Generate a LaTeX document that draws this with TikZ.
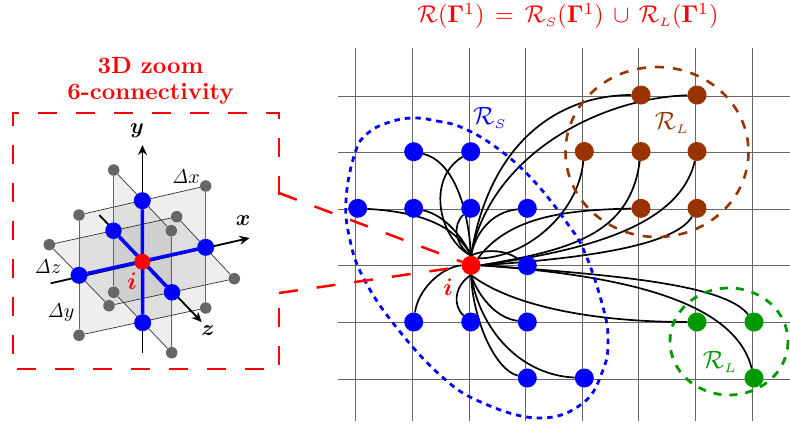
\documentclass[tikz,border=0pt]{standalone}
\usepackage{amsmath}
\usetikzlibrary{arrows.meta,backgrounds,shapes.geometric}
\definecolor{brownc}{RGB}{153,51,0}
\definecolor{greenc}{RGB}{0,153,0}
\definecolor{grayn}{RGB}{102,102,102}
\tikzset{
  pt/.style={circle,inner sep=0pt,minimum size=19pt,fill=#1},
  gpt/.style={circle,inner sep=0pt,minimum size=11.5pt,fill=grayn},
  conn/.style={black,line width=1.7pt},
  gridl/.style={grayn,line width=1pt},
  zoomd/.style={red,line width=2.5pt,dash pattern=on 19pt off 19pt},
  plane/.style={fill=black,fill opacity=0.065},
  pedge/.style={black!80,line width=0.7pt},
  pvert/.style={grayn,line width=0.9pt},
  axisl/.style={black,line width=1.8pt,-{Stealth[length=10pt,width=9pt]}},
  bluel/.style={blue,line width=3.5pt},
  txt/.style={inner sep=0pt,transform shape,scale=#1},
}
\begin{document}
\begin{tikzpicture}[x=1pt,y=-1pt]
\useasboundingbox (0,0) rectangle (790,424);
% titles
\node[txt=2.42,text=red] (ttl) at (568,16) {$\mathcal{R}(\mathbf{\Gamma}^{1})\,=\,\mathcal{R}_{\scriptscriptstyle S}(\mathbf{\Gamma}^{1})\,\cup\,\mathcal{R}_{\scriptscriptstyle L}(\mathbf{\Gamma}^{1})$};
\node[txt=2.35,text=red] (zoom1) at (150.5,66) {\bfseries 3D zoom};
\node[txt=2.35,text=red] (zoom2) at (150.5,94) {\bfseries 6-connectivity};
% 3D stencil nodes
\node[pt=blue,minimum size=17pt] (ct) at (142.3,200.7) {};
\node[pt=blue,minimum size=17pt] (cb) at (142.7,322.7) {};
\node[pt=blue,minimum size=17pt] (cl) at (79,275.3) {};
\node[pt=blue,minimum size=17pt] (cr) at (205.7,247.3) {};
\node[pt=blue,minimum size=16.5pt] (cbk) at (113.5,230.7) {};
\node[pt=blue,minimum size=16.5pt] (cf) at (172,292.3) {};
\node[pt=red,minimum size=16pt] (cc) at (142.3,261.7) {};
\node[gpt] (g1) at (113.7,170) {};
\node[gpt] (g2) at (205.7,186) {};
\node[gpt] (g3) at (79,215) {};
\node[gpt] (g4) at (176.7,216.7) {};
\node[gpt] (g5) at (171.3,230.7) {};
\node[gpt] (g6) at (49.3,244.7) {};
\node[gpt] (g7) at (234.3,278.7) {};
\node[gpt] (g8) at (113.7,292.3) {};
\node[gpt] (g9) at (109,305.7) {};
\node[gpt] (g10) at (205.7,308) {};
\node[gpt] (g11) at (79,335.3) {};
\node[gpt] (g12) at (171.7,352.7) {};
\coordinate (ytail) at (142.5,353);
\coordinate (yhead) at (142.5,145);
\coordinate (xtail) at (50.7,283.3);
\coordinate (xhead) at (249.5,238);
\coordinate (ztail) at (99.3,215);
\coordinate (zhead) at (201.7,322);
\node[txt=2.2] (lx) at (243,221) {{\boldmath$x$}};
\node[txt=2.2] (ly) at (137,131) {{\boldmath$y$}};
\node[txt=2.2] (lz) at (208,331) {{\boldmath$z$}};
\node[txt=2] (ldx) at (186,177) {$\mathit{\Delta}x$};
\node[txt=2] (ldz) at (48,267) {$\mathit{\Delta}z$};
\node[txt=2] (ldy) at (61,313) {$\mathit{\Delta}y$};
\node[txt=2.4,text=red] (li) at (132,281) {{\boldmath$i$}};
% right grid nodes
\node[pt=blue] (a1) at (413.7,151.7) {};
\node[pt=blue] (a2) at (470.7,151.7) {};
\node[pt=blue] (b0) at (357.7,208.3) {};
\node[pt=blue] (b1) at (413.7,208.3) {};
\node[pt=blue] (b2) at (470.7,208.3) {};
\node[pt=blue] (b3) at (527.3,208.3) {};
\node[pt=blue] (c3) at (527.3,265.7) {};
\node[pt=blue] (d1) at (413.7,322) {};
\node[pt=blue] (d2) at (470.7,322) {};
\node[pt=blue] (d3) at (527.3,322) {};
\node[pt=blue] (e3) at (527.3,378) {};
\node[pt=blue] (e4) at (584.3,378) {};
\node[pt=red] (r) at (471,265.3) {};
\node[pt=brownc] (t1) at (641,95) {};
\node[pt=brownc] (t2) at (697,95) {};
\node[pt=brownc] (u0) at (584.3,151.5) {};
\node[pt=brownc] (u1) at (641,151.5) {};
\node[pt=brownc] (u2) at (697,151.5) {};
\node[pt=brownc] (v1) at (641,208.3) {};
\node[pt=brownc] (v2) at (697,208.3) {};
\node[pt=greenc] (w1) at (697,322) {};
\node[pt=greenc] (w2) at (754,322) {};
\node[pt=greenc] (x2) at (754,378) {};
\node[txt=2.5,text=blue] (lrs) at (490,118) {$\mathcal{R}_{\scriptscriptstyle S}$};
\node[txt=2.5,text=brownc] (lrl) at (672,123) {$\mathcal{R}_{\scriptscriptstyle L}$};
\node[txt=2.5,text=greenc] (lrg) at (720,362) {$\mathcal{R}_{\scriptscriptstyle L}$};
\node[txt=2.4,text=red] (lri) at (448,287) {{\boldmath$i$}};
\begin{scope}[on background layer]
  % grid
  \foreach \x in {355.4,412.6,469.4,525.4,582.3,638.4,695.6,752.3}
    \draw[gridl] (\x,48) -- (\x,421);
  \foreach \y in {96.3,152.3,209,265.5,322,379.3}
    \draw[gridl] (338,\y) -- (790,\y);
  % 3D planes
  \fill[plane] (g6.center) -- (g4.center) -- (g7.center) -- (g9.center) -- cycle;
  \fill[plane] (g3.center) -- (g2.center) -- (g10.center) -- (g11.center) -- cycle;
  \fill[plane] (g1.center) -- (g5.center) -- (g12.center) -- (g8.center) -- cycle;
  \draw[pedge] (g6) -- (g4) -- (g7) -- (g9) -- (g6);
  \draw[pedge] (g3) -- (g2);
  \draw[pedge] (g11) -- (g10);
  \draw[pedge] (g1) -- (g5);
  \draw[pedge] (g8) -- (g12);
  \draw[pvert] (g3) -- (g11);
  \draw[pvert] (g2) -- (g10);
  \draw[pvert] (g1) -- (g8);
  \draw[pvert] (g5) -- (g12);
  % axes
  \draw[axisl] (ytail) -- (yhead);
  \draw[axisl] (xtail) -- (xhead);
  \draw[axisl] (ztail) -- (zhead);
  \draw[bluel] (ct) -- (cb);
  \draw[bluel] (cl) -- (cr);
  \draw[bluel] (cbk) -- (cf);
  % connectors
  \draw[conn] (a1) .. controls (450,160) and (468,200) .. (r.north);
  \draw[conn] (a2) .. controls (425,180) and (440,240) .. (r.north);
  \draw[conn] (b0) .. controls (420,212) and (455,225) .. (r.north);
  \draw[conn] (b1) .. controls (445,215) and (463,238) .. (r.north);
  \draw[conn] (b2) .. controls (452,225) and (455,245) .. (r.north);
  \draw[conn] (b3) .. controls (490,212) and (475,235) .. (r.north);
  \draw[conn] (c3) .. controls (505,249) and (485,249) .. (r.north);
  \draw[conn] (t1) .. controls (560,95) and (490,140) .. (r.north);
  \draw[conn] (t2) .. controls (600,98) and (490,155) .. (r.north);
  \draw[conn] (u0) .. controls (578,215) and (525,258) .. (r.north east);
  \draw[conn] (u1) .. controls (630,235) and (570,250) .. (r.east);
  \draw[conn] (u2) .. controls (680,225) and (590,250) .. (r.east);
  \draw[conn] (v1) .. controls (570,210) and (510,215) .. (r.north east);
  \draw[conn] (v2) .. controls (675,245) and (590,258) .. (r.east);
  \draw[conn] (d1) .. controls (418,290) and (440,268) .. (r.west);
  \draw[conn] (d2) .. controls (452,305) and (455,285) .. (r.south);
  \draw[conn] (d3) .. controls (495,318) and (478,295) .. (r.south);
  \draw[conn] (e3) .. controls (495,370) and (473,320) .. (r.south);
  \draw[conn] (e4) .. controls (520,375) and (480,330) .. (r.south);
  \draw[conn] (w1) .. controls (590,322) and (510,305) .. (r.south);
  \draw[conn] (w2) .. controls (725,285) and (620,275) .. (r.east);
  \draw[conn] (x2) .. controls (735,300) and (620,275) .. (r.east);
  % regions
  \draw[blue,line width=2.8pt,dash pattern=on 5.5pt off 5pt] plot[smooth cycle,tension=0.7] coordinates {(413,118) (437,121) (463,128) (497,148) (533,180) (567,223) (585,253) (603,307) (608,340) (603,370) (583,403) (540,418) (483,403) (440,375) (393,323) (363,277) (350,240) (346,200) (355,153) (368,133) (390,122)};
  \draw[brownc,line width=2.6pt,dash pattern=on 9pt off 9pt] (657,152) ellipse [x radius=91.5,y radius=85];
  \draw[greenc,line width=2.8pt,dash pattern=on 8pt off 8pt] (729,341.5) ellipse [x radius=59,y radius=53.5];
  % zoom frame
  \draw[zoomd,line join=miter] (279,195) -- (279,113) -- (13,113) -- (13,369) -- (279,369) -- (279,292);
  \draw[zoomd] (279,193) -- (r);
  \draw[zoomd] (279,293) -- (r);
\end{scope}
\end{tikzpicture}
\end{document}
